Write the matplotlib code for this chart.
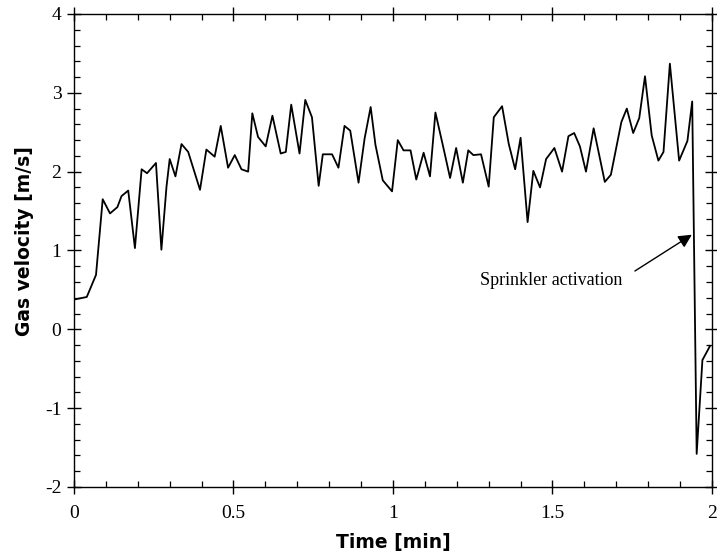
import matplotlib.pyplot as plt
from matplotlib.ticker import MultipleLocator

# Datos (tiempo en min, velocidad en m/s)
tiempo = [
    0.003, 0.04, 0.069, 0.09, 0.113, 0.136, 0.149, 0.17, 0.191, 0.212,
    0.229, 0.257, 0.274, 0.29, 0.30, 0.318, 0.337, 0.358, 0.395, 0.415,
    0.441, 0.46, 0.483, 0.504, 0.525, 0.546, 0.559, 0.577, 0.601, 0.622,
    0.648, 0.664, 0.681, 0.707, 0.725, 0.746, 0.767, 0.78, 0.809, 0.829,
    0.848, 0.866, 0.892, 0.911, 0.93, 0.945, 0.968, 0.997, 1.015, 1.033,
    1.055, 1.073, 1.096, 1.116, 1.133, 1.156, 1.179, 1.198, 1.219, 1.236,
    1.252, 1.276, 1.30, 1.316, 1.342, 1.363, 1.383, 1.40, 1.422, 1.44,
    1.461, 1.48, 1.506, 1.53, 1.55, 1.568, 1.586, 1.605, 1.629, 1.664,
    1.683, 1.716, 1.733, 1.753, 1.772, 1.79, 1.811, 1.832, 1.848, 1.868,
    1.897, 1.923, 1.938, 1.952, 1.97, 1.994,
]
velocidad = [
    0.38, 0.41, 0.69, 1.65, 1.47, 1.55, 1.69, 1.76, 1.03, 2.03,
    1.98, 2.11, 1.01, 1.81, 2.16, 1.94, 2.35, 2.25, 1.77, 2.28,
    2.19, 2.58, 2.05, 2.21, 2.03, 2.00, 2.74, 2.44, 2.32, 2.71,
    2.23, 2.25, 2.85, 2.23, 2.91, 2.69, 1.82, 2.22, 2.22, 2.05,
    2.58, 2.52, 1.86, 2.42, 2.82, 2.34, 1.89, 1.75, 2.40, 2.27,
    2.27, 1.90, 2.24, 1.94, 2.75, 2.34, 1.92, 2.30, 1.86, 2.27,
    2.21, 2.22, 1.81, 2.69, 2.83, 2.35, 2.03, 2.43, 1.36, 2.01,
    1.80, 2.16, 2.30, 2.00, 2.45, 2.49, 2.32, 2.00, 2.55, 1.87,
    1.96, 2.63, 2.80, 2.49, 2.68, 3.21, 2.46, 2.14, 2.25, 3.37,
    2.14, 2.39, 2.89, -1.58, -0.39, -0.21,
]
x_ticks = [0, 0.5, 1, 1.5, 2]
x_ticklabels = ["0", "0.5", "1", "1.5", "2"]
y_ticks = [-2, -1, 0, 1, 2, 3, 4]

fuente_serif = ["Liberation Serif", "DejaVu Serif"]
fuente_label = ["DejaVu Sans"]

fig = plt.figure(figsize=(7.17, 5.57), dpi=100)
ax = fig.add_axes([0.1032, 0.1257, 0.8898, 0.8492])

ax.plot(tiempo, velocidad, color="black", linewidth=1.3)

ax.set_xlim(0, 2)
ax.set_ylim(-2, 4)
ax.set_xticks(x_ticks)
ax.set_xticklabels(x_ticklabels)
ax.set_yticks(y_ticks)
ax.set_yticklabels([str(v) for v in y_ticks])
ax.xaxis.set_minor_locator(MultipleLocator(0.1))
ax.yaxis.set_minor_locator(MultipleLocator(0.2))

ax.tick_params(which="major", direction="inout", length=10, width=1.0,
               top=True, right=True, labelsize=14, pad=4)
ax.tick_params(axis="x", which="major", pad=8)
ax.tick_params(which="minor", direction="in", length=4, width=0.9,
               top=True, right=True)
for lbl in ax.get_xticklabels() + ax.get_yticklabels():
    lbl.set_family(fuente_serif)
for s in ax.spines.values():
    s.set_linewidth(1.0)

ax.set_xlabel("Time [min]", family=fuente_label, fontweight="bold",
              fontsize=13.5, labelpad=8)
ax.set_ylabel("Gas velocity [m/s]", family=fuente_label, fontweight="bold",
              fontsize=13.5, labelpad=4)
ax.yaxis.set_label_coords(-0.062, 0.52)

# Anotacion de la activacion del rociador
ax.annotate(
    "Sprinkler activation",
    xy=(1.937, 1.2),
    xytext=(1.274, 0.62),
    family=fuente_serif,
    fontsize=13,
    va="center",
    arrowprops=dict(arrowstyle="-|>", color="black", lw=1.0,
                    mutation_scale=20, shrinkA=8, shrinkB=0,
                    relpos=(1.0, 0.6)),
)

fig.savefig("out.png", dpi=100)
